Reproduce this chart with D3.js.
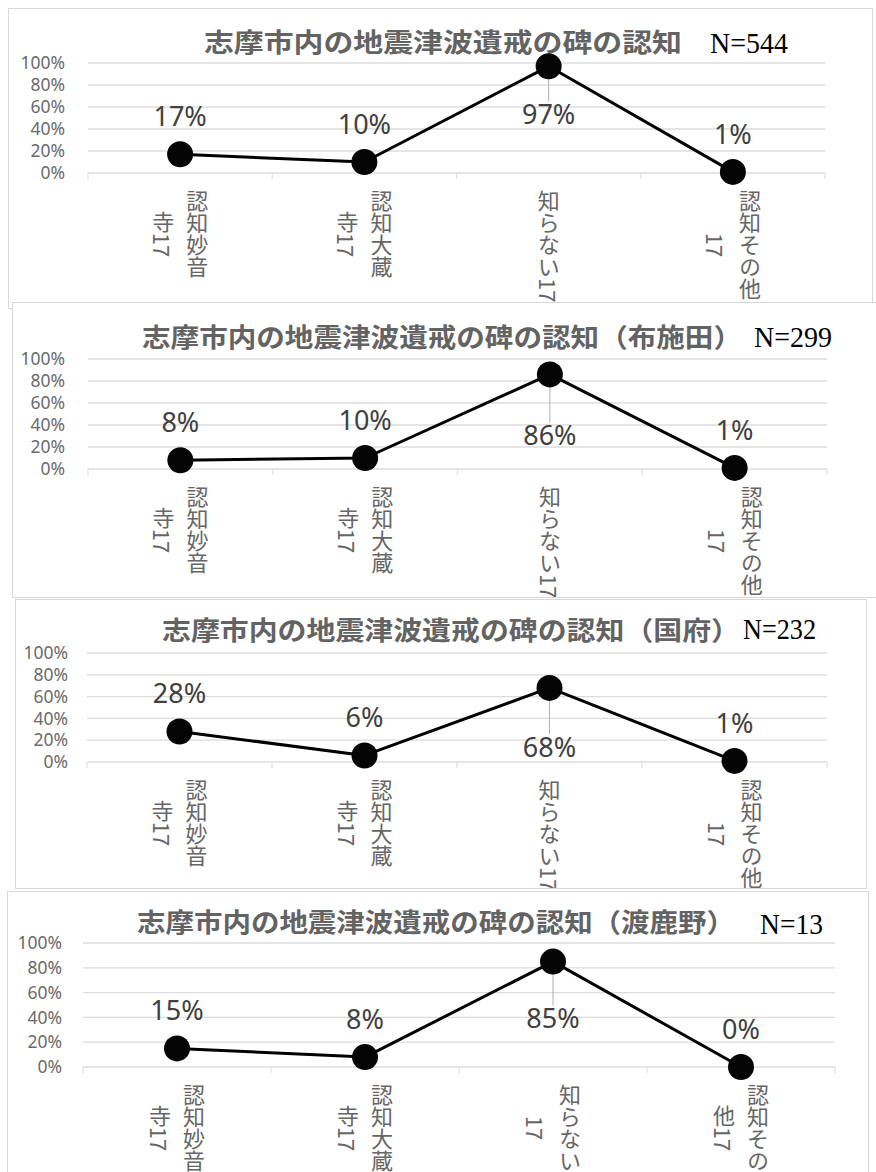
<!DOCTYPE html>
<html>
<head>
<meta charset="utf-8">
<script src="https://cdn.jsdelivr.net/npm/d3@7"></script>
<style>
  body { margin: 0; background: #fff; }
  svg { display: block; }
</style>
</head>
<body>
<svg id="chart" width="876" height="1172"></svg>
<script>
// ---- data ----
const categories = ['認知妙音寺17', '認知大蔵寺17', '知らない17', '認知その他17'];
// category labels as they wrap on the axis ("\n" = column break)
const labelsWide = ['認知妙音\n寺17', '認知大蔵\n寺17', '知らない17', '認知その他\n17'];
const labelsNarrow = ['認知妙音\n寺17', '認知大蔵\n寺17', '知らない\n17', '認知その\n他17'];
const titles = [
  '志摩市内の地震津波遺戒の碑の認知',
  '志摩市内の地震津波遺戒の碑の認知（布施田）',
  '志摩市内の地震津波遺戒の碑の認知（国府）',
  '志摩市内の地震津波遺戒の碑の認知（渡鹿野）'
];
const sampleSizes = [544, 299, 232, 13];
const valuesAll = [17, 10, 97, 1];
const valuesFuseda = [8, 10, 86, 1];
const valuesKokufu = [28, 6, 68, 1];
const valuesWatakano = [15, 8, 85, 0];
const yTicks = [0, 20, 40, 60, 80, 100];
const labelPlacement = ['above', 'above', 'below', 'above'];

// ---- layout of the four stacked chart panels ----
const panels = [
  { values: valuesAll, title: titles[0], n: sampleSizes[0], labels: labelsWide,
    box: { x: 8, y: 8, w: 864, h: 300 }, plot: { x0: 88, x1: 825, y0: 63, y1: 173 },
    titleX: 204, titleW: 478, titleY: 43, nX: 710, nW: 78, nY: 42, tickX: 65, belowGap: 48 },
  { values: valuesFuseda, title: titles[1], n: sampleSizes[1], labels: labelsWide,
    box: { x: 12, y: 302, w: 880, h: 295 }, plot: { x0: 88, x1: 827, y0: 359, y1: 469 },
    titleX: 142, titleW: 600, titleY: 338, nX: 754, nW: 78, nY: 336, tickX: 65, belowGap: 61 },
  { values: valuesKokufu, title: titles[2], n: sampleSizes[2], labels: labelsWide,
    box: { x: 15, y: 599, w: 851, h: 289 }, plot: { x0: 87, x1: 827, y0: 653, y1: 762 },
    titleX: 162, titleW: 578, titleY: 631, nX: 743, nW: 73, nY: 628, tickX: 68, belowGap: 59 },
  { values: valuesWatakano, title: titles[3], n: sampleSizes[3], labels: labelsNarrow,
    box: { x: 7, y: 891, w: 861, h: 300 }, plot: { x0: 83, x1: 835, y0: 943, y1: 1067 },
    titleX: 137, titleW: 598, titleY: 923, nX: 760, nW: 63, nY: 923, tickX: 62, belowGap: 57 }
];

const svg = d3.select('#chart');
svg.append('rect').attr('width', 876).attr('height', 1172).attr('fill', '#fff');
const defs = svg.append('defs');

const CJK = "'Noto Sans CJK JP', 'Noto Sans', sans-serif";
const LATIN = "'Noto Sans', 'Open Sans', sans-serif";
const colPitch = 34;

panels.forEach((p, pi) => {
  defs.append('clipPath').attr('id', 'clip' + pi)
    .append('rect').attr('x', p.box.x).attr('y', p.box.y).attr('width', p.box.w).attr('height', p.box.h);

  const g = svg.append('g');
  g.append('rect')
    .attr('x', p.box.x + 0.5).attr('y', p.box.y + 0.5)
    .attr('width', p.box.w).attr('height', p.box.h)
    .attr('fill', '#fff').attr('stroke', '#d9d9d9').attr('stroke-width', 1);

  const c = g.append('g').attr('clip-path', `url(#clip${pi})`);

  const x = d3.scaleBand().domain(categories).range([p.plot.x0, p.plot.x1]);
  const y = d3.scaleLinear().domain([0, 100]).range([p.plot.y1, p.plot.y0]);

  // gridlines
  c.append('g').selectAll('line').data(yTicks).join('line')
    .attr('x1', p.plot.x0).attr('x2', p.plot.x1)
    .attr('y1', d => y(d)).attr('y2', d => y(d))
    .attr('stroke', '#dcdcdc').attr('stroke-width', 1.3);

  // category boundary ticks
  const bounds = categories.map(cat => x(cat)).concat([p.plot.x1]);
  c.append('g').selectAll('line').data(bounds).join('line')
    .attr('x1', d => d).attr('x2', d => d)
    .attr('y1', p.plot.y1).attr('y2', p.plot.y1 + 6)
    .attr('stroke', '#e0e0e0').attr('stroke-width', 1.2);

  // y axis labels
  c.append('g').selectAll('text').data(yTicks).join('text')
    .attr('x', p.tickX).attr('y', d => y(d)).attr('dy', '0.35em')
    .attr('text-anchor', 'end')
    .attr('font-family', LATIN).attr('font-size', 17.5)
    .attr('fill', '#6b6b6b')
    .text(d => d + '%');

  // title
  c.append('text')
    .attr('x', p.titleX).attr('y', p.titleY).attr('dy', '0.36em')
    .attr('font-family', CJK).attr('font-size', 26).attr('font-weight', 700)
    .attr('fill', '#636363')
    .attr('textLength', p.titleW).attr('lengthAdjust', 'spacingAndGlyphs')
    .text(p.title);

  // sample size
  c.append('text')
    .attr('x', p.nX).attr('y', p.nY).attr('dy', '0.35em')
    .attr('font-family', "'Liberation Serif', 'DejaVu Serif', serif").attr('font-size', 30)
    .attr('fill', '#000')
    .attr('textLength', p.nW).attr('lengthAdjust', 'spacingAndGlyphs')
    .text('N=' + p.n);

  // category labels, vertical columns centred on each band
  categories.forEach((cat, i) => {
    const cols = p.labels[i].split('\n');
    const cx = x(cat) + x.bandwidth() / 2;
    const lab = c.append('g');
    const texts = cols.map((col, k) => lab.append('text')
      .attr('x', cx + ((cols.length - 1) / 2 - k) * colPitch)
      .attr('y', 0)
      .attr('text-anchor', 'middle')
      .attr('font-family', CJK).attr('font-size', 22)
      .attr('fill', '#666')
      .style('writing-mode', 'vertical-rl')
      .text(col));
    const longest = d3.max(texts, t => t.node().getComputedTextLength());
    const cy = p.plot.y1 + 17 + longest / 2;
    texts.forEach(t => t.attr('y', cy));
  });

  // series line
  const line = d3.line().x((d, i) => x(categories[i]) + x.bandwidth() / 2).y(d => y(d));
  c.append('path').datum(p.values)
    .attr('d', line).attr('fill', 'none')
    .attr('stroke', '#000').attr('stroke-width', 3).attr('stroke-linejoin', 'round');

  // leader lines for labels placed below
  p.values.forEach((v, i) => {
    if (labelPlacement[i] !== 'below') return;
    const cx = x(categories[i]) + x.bandwidth() / 2;
    c.append('line')
      .attr('x1', cx).attr('x2', cx)
      .attr('y1', y(v)).attr('y2', y(v) + p.belowGap - 13)
      .attr('stroke', '#b0b0b0').attr('stroke-width', 1);
  });

  // markers
  c.append('g').selectAll('circle').data(p.values).join('circle')
    .attr('cx', (d, i) => x(categories[i]) + x.bandwidth() / 2)
    .attr('cy', d => y(d))
    .attr('r', 13)
    .attr('fill', '#050505');

  // data labels
  c.append('g').selectAll('text').data(p.values).join('text')
    .attr('x', (d, i) => x(categories[i]) + x.bandwidth() / 2)
    .attr('y', (d, i) => y(d) + (labelPlacement[i] === 'below' ? p.belowGap : -38))
    .attr('dy', '0.36em')
    .attr('text-anchor', 'middle')
    .attr('font-family', LATIN).attr('font-size', 27)
    .attr('fill', '#404040')
    .text(d => d + '%');
});
</script>
</body>
</html>
